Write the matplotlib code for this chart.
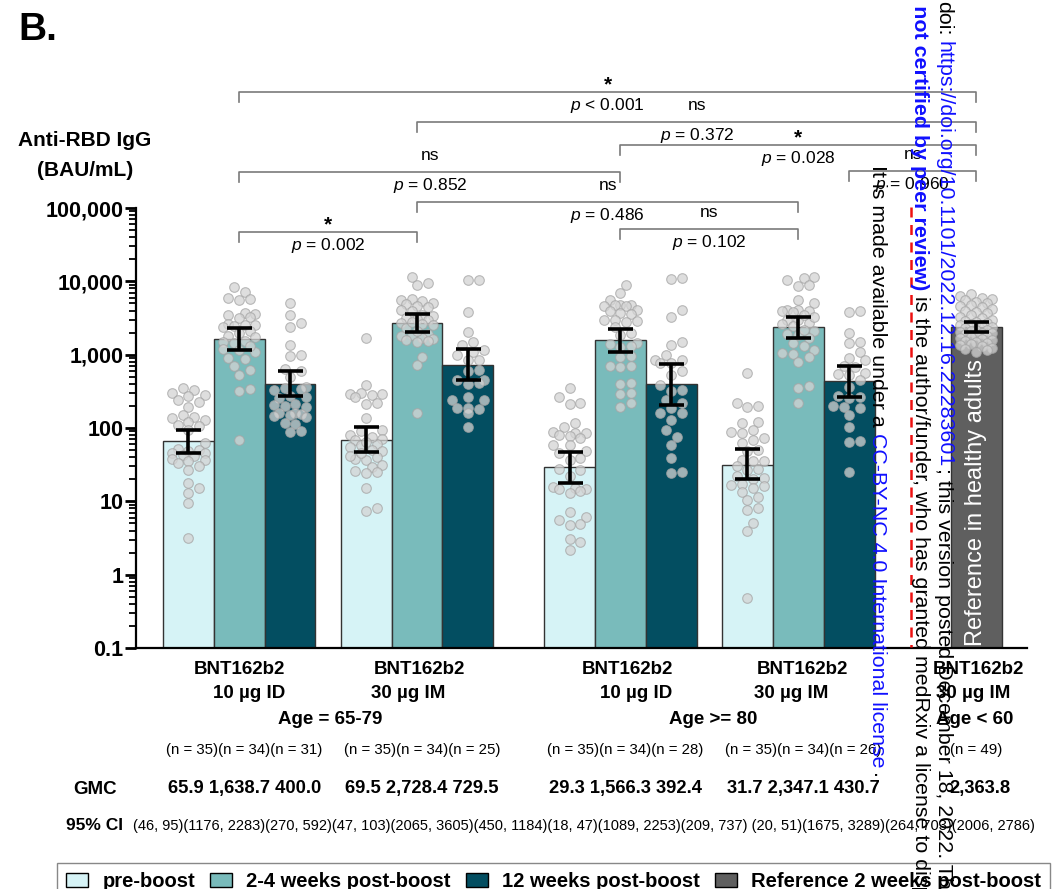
import numpy as np
import matplotlib.pyplot as plt
from matplotlib.patches import Patch
from matplotlib.transforms import blended_transform_factory
from matplotlib.ticker import LogLocator, NullFormatter

plt.rcParams['font.family'] = ['Liberation Sans', 'DejaVu Sans']
plt.rcParams['mathtext.fontset'] = 'custom'
plt.rcParams['mathtext.rm'] = 'Liberation Sans'
plt.rcParams['mathtext.it'] = 'Liberation Sans:italic'
plt.rcParams['mathtext.bf'] = 'Liberation Sans:bold'

# ---------------- data ----------------
timepoints = ['pre-boost', '2-4 weeks post-boost', '12 weeks post-boost']
ref_name = 'Reference 2 weeks post-boost'
vaccine = ['BNT162b2', 'BNT162b2', 'BNT162b2', 'BNT162b2', 'BNT162b2']
dose = ['10 µg ID', '30 µg IM', '10 µg ID', '30 µg IM', '30 µg IM']
ages = ['Age = 65-79', 'Age >= 80', 'Age < 60']

gmc = [[65.9, 1638.7, 400.0],
       [69.5, 2728.4, 729.5],
       [29.3, 1566.3, 392.4],
       [31.7, 2347.1, 430.7]]
ci_low = [[46, 1176, 270], [47, 2065, 450], [18, 1089, 209], [20, 1675, 264]]
ci_high = [[95, 2283, 592], [103, 3605, 1184], [47, 2253, 737], [51, 3289, 703]]
n_subj = [[35, 34, 31], [35, 34, 25], [35, 34, 28], [35, 34, 26]]
ref_gmc = 2363.8
ref_ci = (2006, 2786)
ref_n = 49

# individual titres
pts_6579_id_pre = [350, 330, 300, 285, 270, 240, 225, 195, 150, 140, 135, 130, 120, 110, 105,
                   95, 62, 52, 50, 48, 46, 45, 43, 42, 38, 37, 35, 33, 30, 27, 18, 15, 13, 9.5, 3.2]
pts_6579_id_2w = [8450, 7230, 6000, 5800, 5500, 3700, 3600, 3500, 3300, 3200, 2600, 2550, 2500, 2450,
                  2400, 2100, 2000, 1800, 1750, 1550, 1500, 1450, 1200, 1150, 1100, 900, 880, 690,
                  620, 530, 340, 320, 1300, 69]
pts_6579_id_12w = [5010, 3480, 2680, 2410, 1355, 1000, 960, 640, 600, 500, 360, 350, 340, 330, 270,
                   265, 260, 210, 205, 200, 195, 160, 158, 155, 150, 145, 140, 118, 115, 90, 88]
pts_6579_im_pre = [1670, 386, 300, 295, 290, 285, 267, 220, 215, 135, 95, 92, 80, 70, 68, 60, 58, 50,
                   48, 40, 38, 37, 31, 29, 26, 25, 24, 15, 8.0, 7.4, 75, 65, 55, 45, 42]
pts_6579_im_2w = [11600, 9400, 9000, 5700, 5500, 5400, 5100, 4900, 4600, 4400, 4100, 3900, 3500,
                  3400, 3200, 3100, 3000, 2700, 2600, 2300, 1900, 1850, 1800, 1700, 1650, 1600,
                  1550, 1500, 940, 720, 159, 2800, 2500, 2100]
pts_6579_im_12w = [10400, 10300, 3860, 2060, 1500, 1355, 1160, 1100, 990, 850, 840, 620, 600, 455,
                   450, 410, 400, 267, 241, 240, 190, 185, 182, 159, 104]
pts_80_id_pre = [348, 267, 220, 215, 116, 104, 89, 86, 85, 80, 79, 72, 59, 58, 48, 39, 37, 28, 27,
                 22, 15.5, 15, 14.8, 14.5, 14, 12.9, 7.2, 6.2, 5.6, 4.9, 4.7, 3.1, 2.8, 2.2, 45]
pts_80_id_2w = [8900, 6900, 5600, 4800, 4750, 4700, 4650, 4600, 4100, 4000, 3700, 3600, 3000, 2950,
                2850, 2800, 1850, 1450, 1400, 1300, 1280, 950, 930, 700, 690, 680, 410, 400, 300,
                290, 220, 195, 2400, 2000]
pts_80_id_12w = [11000, 10800, 4070, 3300, 1500, 1355, 990, 850, 840, 770, 760, 590, 530, 390, 330,
                 320, 241, 217, 185, 160, 158, 129, 94, 76, 59, 39, 25.5, 24.5]
pts_80_im_pre = [557, 217, 200, 195, 122, 116, 94, 89, 85, 72, 69, 62, 50, 48, 37, 36, 35, 30, 28,
                 27, 22, 21, 20, 17, 16.5, 16, 15, 13.5, 11.6, 10.4, 8.0, 7.6, 5.0, 3.9, 0.48]
pts_80_im_2w = [11600, 11000, 10500, 9000, 8700, 5600, 5000, 4100, 4050, 4000, 3950, 3850, 3000,
                2950, 2700, 2650, 2450, 2100, 1850, 1700, 1450, 1300, 1160, 1050, 1030, 940, 800,
                370, 350, 217, 2200, 1900, 3500, 3300]
pts_80_im_12w = [3900, 3800, 1950, 1500, 1430, 1100, 900, 850, 700, 680, 560, 550, 530, 450, 366,
                 270, 265, 260, 200, 195, 190, 150, 104, 66, 64, 25]
pts_ref = [6800, 6300, 6000, 5700, 5500, 5200, 5000, 4800, 4600, 4400, 4200, 4000, 3800, 3700,
           3500, 3300, 3200, 3000, 2900, 2800, 2700, 2600, 2500, 2450, 2400, 2300, 2200, 2150,
           2100, 2050, 2000, 1950, 1900, 1850, 1800, 1750, 1700, 1650, 1600, 1550, 1500, 1450,
           1400, 1350, 1300, 1250, 1200, 1150, 1100]

points = [[pts_6579_id_pre, pts_6579_id_2w, pts_6579_id_12w],
          [pts_6579_im_pre, pts_6579_im_2w, pts_6579_im_12w],
          [pts_80_id_pre, pts_80_id_2w, pts_80_id_12w],
          [pts_80_im_pre, pts_80_im_2w, pts_80_im_12w]]

# ---------------- layout ----------------
W, H = 1062, 889
colors = ['#d6f3f6', '#79bbbb', '#034e61']
ref_color = '#5f5f5f'
group_left = [0, 3.5, 7.5, 11.0]
ref_left = 15.5
PX_UNIT = 50.8      # pixels per bar width
PX_DEC = 73.33      # pixels per decade


def fy(ypx):
    return 1 - ypx / H


def swarm(vals, diam=9.0, half=21.0):
    # deterministic beeswarm offsets (in bar widths)
    y = np.log10(vals) * PX_DEC
    order = np.argsort(y)
    step = diam * 0.6
    cands = [0.0]
    k = 1
    while k * step <= half:
        cands += [k * step, -k * step]
        k += 1
    placed = []
    xs = np.zeros(len(vals))
    for i in order:
        best, best_d = 0.0, -1
        for c in cands:
            d = min([np.hypot(c - px, y[i] - py) for px, py in placed] or [np.inf])
            if d >= diam * 1.05:
                best = c
                break
            if d > best_d:
                best, best_d = c, d
        xs[i] = best
        placed.append((best, y[i]))
    return xs / PX_UNIT


def draw_points(xc, vals):
    vals = np.array(vals, dtype=float)
    ax.scatter(xc + swarm(vals), vals, s=48, facecolor='#d4d4d4', edgecolor='#a5a5a5',
               linewidth=0.8, alpha=0.75, zorder=3)


fig = plt.figure(figsize=(W / 100, H / 100), dpi=100)
ax = fig.add_axes([136 / W, fy(648), (1027 - 136) / W, 440 / H])

for g in range(4):
    for t in range(3):
        xc = group_left[g] + t + 0.5
        ax.bar(xc, gmc[g][t], width=1, color=colors[t], edgecolor='#333333', linewidth=1, zorder=1)
        draw_points(xc, points[g][t])
        ax.errorbar(xc, gmc[g][t], yerr=[[gmc[g][t] - ci_low[g][t]], [ci_high[g][t] - gmc[g][t]]],
                    fmt='none', ecolor='black', elinewidth=2.6, capsize=9, capthick=2.6, zorder=4)

xr = ref_left + 0.5
ax.bar(xr, ref_gmc, width=1, color=ref_color, edgecolor='#333333', linewidth=1, zorder=1)
draw_points(xr, pts_ref)
ax.errorbar(xr, ref_gmc, yerr=[[ref_gmc - ref_ci[0]], [ref_ci[1] - ref_gmc]],
            fmt='none', ecolor='black', elinewidth=2.6, capsize=9, capthick=2.6, zorder=4)
ax.text(xr, 0.108, 'Reference in healthy adults', rotation=90, ha='center', va='bottom',
        color='white', fontsize=17, zorder=5)

ax.set_yscale('log')
ax.set_ylim(0.1, 1e5)
ax.set_xlim(-0.53, 17.0)
ax.set_yticks([0.1, 1, 10, 100, 1e3, 1e4, 1e5])
ax.set_yticklabels(['0.1', '1', '10', '100', '1,000', '10,000', '100,000'],
                   fontsize=15.5, fontweight='bold')
ax.yaxis.set_minor_locator(LogLocator(base=10, subs=np.arange(2, 10)))
ax.yaxis.set_minor_formatter(NullFormatter())
ax.tick_params(axis='y', which='major', length=8, width=2, pad=1)
ax.tick_params(axis='y', which='minor', length=5, width=1.3)
ax.set_xticks([])
for s in ['top', 'right']:
    ax.spines[s].set_visible(False)
for s in ['left', 'bottom']:
    ax.spines[s].set_linewidth(1.6)

# significance brackets: (x from, x to, level as log10 titre, upper text, lower text)
c2w = [group_left[g] + 1.5 for g in range(4)]
brackets = [(c2w[0], xr, 6.582, '*', '$p$ < 0.001'),
            (c2w[1], xr, 6.173, 'ns', '$p$ = 0.372'),
            (c2w[2], xr, 5.859, '*', '$p$ = 0.028'),
            (group_left[3] + 2.5, xr, 5.505, 'ns', '$p$ = 0.960'),
            (c2w[0], c2w[2], 5.491, 'ns', '$p$ = 0.852'),
            (c2w[1], c2w[3], 5.082, 'ns', '$p$ = 0.486'),
            (c2w[2], c2w[3], 4.714, 'ns', '$p$ = 0.102'),
            (c2w[0], c2w[1], 4.673, '*', '$p$ = 0.002')]
for x0, x1, lvl, top, bot in brackets:
    yl = 10 ** lvl
    yt = 10 ** (lvl - 0.13)
    ax.plot([x0, x0, x1, x1], [yt, yl, yl, yt], color='#7a7a7a', lw=1.2, clip_on=False, zorder=2)
    xm = (x0 + x1) / 2
    if top == '*':
        ax.annotate(top, (xm, yl), xytext=(0, 1.5), textcoords='offset points', ha='center',
                    va='baseline', fontsize=15, fontweight='bold', annotation_clip=False)
    else:
        ax.annotate(top, (xm, yl), xytext=(0, 8.5), textcoords='offset points', ha='center',
                    va='baseline', fontsize=12.5, annotation_clip=False)
    ax.annotate(bot, (xm, yl), xytext=(0, -3), textcoords='offset points', ha='center',
                va='top', fontsize=12.5, annotation_clip=False)

# labels under the axis
tr = blended_transform_factory(ax.transData, fig.transFigure)
line1_x = [1.5, 5.04, 9.13, 12.58, 16.04]
line2_x = [1.69, 4.82, 9.31, 12.36, 15.94]
for i in range(5):
    ax.text(line1_x[i], fy(670), vaccine[i], transform=tr, ha='center', va='center',
            fontsize=13.5, fontweight='bold')
    ax.text(line2_x[i], fy(694), dose[i], transform=tr, ha='center', va='center',
            fontsize=13.5, fontweight='bold')
for x, lab in zip([3.3, 10.83, 15.98], ages):
    ax.text(x, fy(719), lab, transform=tr, ha='center', va='center', fontsize=13.5,
            fontweight='bold')

group_cx = [group_left[g] + 1.6 for g in range(4)]
for g in range(4):
    ax.text(group_cx[g], fy(750), ''.join(f'(n = {n})' for n in n_subj[g]), transform=tr,
            ha='center', va='center', fontsize=10.8)
    ax.text(group_cx[g], fy(789), ' '.join(f'{v:,.1f}' for v in gmc[g]), transform=tr,
            ha='center', va='center', fontsize=13.2, fontweight='bold')
ax.text(xr, fy(750), f'(n = {ref_n})', transform=tr, ha='center', va='center', fontsize=10.8)
ax.text(xr + 0.08, fy(789), f'{ref_gmc:,.1f}', transform=tr, ha='center', va='center',
        fontsize=13.2, fontweight='bold')

ci_parts = []
for g in range(4):
    s = ''.join(f'({lo}, {hi})' for lo, hi in zip(ci_low[g], ci_high[g]))
    ci_parts.append((' ' if g == 3 else '') + s)
ci_parts.append(f'({ref_ci[0]}, {ref_ci[1]})')
fig.text(133 / W, fy(826), ''.join(ci_parts), ha='left', va='center', fontsize=10.5)

fig.text(95 / W, fy(789), 'GMC', ha='center', va='center', fontsize=13.5, fontweight='bold')
fig.text(94 / W, fy(826), '95% CI', ha='center', va='center', fontsize=12.5, fontweight='bold')
fig.text(85 / W, fy(141), 'Anti-RBD IgG', ha='center', va='center', fontsize=15, fontweight='bold')
fig.text(85 / W, fy(170), '(BAU/mL)', ha='center', va='center', fontsize=15, fontweight='bold')
fig.text(18 / W, fy(12), 'B.', ha='left', va='top', fontsize=28, fontweight='bold')

handles = [Patch(facecolor=c, edgecolor='black', linewidth=1) for c in colors + [ref_color]]
fig.legend(handles, timepoints + [ref_name], loc='upper left', bbox_to_anchor=(57 / W, fy(863)),
           ncol=4, fancybox=False, edgecolor='#888888', framealpha=1,
           prop={'weight': 'bold', 'size': 14.5}, handlelength=1.1, handleheight=0.7,
           handletextpad=0.7, columnspacing=0.75, borderpad=0.45, borderaxespad=0)

# medRxiv watermark columns (read top to bottom)
renderer = fig.canvas.get_renderer()
WM = 15.4
space_px = 0.278 * WM * 100 / 72


def column(x_px, y_px, pieces, anchor_end=False):
    y = y_px
    if anchor_end:
        first = pieces[0]
        t = fig.text(0, 0, first[0], rotation=-90, fontsize=WM, fontweight=first[2])
        y -= t.get_window_extent(renderer).height
        t.remove()
    for txt, col, wt, gap in pieces:
        t = fig.text(x_px / W, fy(y), txt, rotation=-90, ha='center', va='top', color=col,
                     fontsize=WM, fontweight=wt, zorder=10)
        y += t.get_window_extent(renderer).height + (space_px if gap else 0)


column(944, 1, [('doi:', 'black', 'normal', True),
                ('https://doi.org/10.1101/2022.12.16.22283601', '#1010ff', 'normal', False),
                ('; this version posted December 18, 2022. The copyright holder', 'black', 'normal', False)])
column(920, 290, [('(which was not certified by peer review)', '#1010ff', 'bold', True),
                  ('is the author/funder, who has granted medRxiv a license to display the preprint',
                   'black', 'normal', False)], anchor_end=True)
column(877, 165, [('It is made available under a', 'black', 'normal', True),
                  ('CC-BY-NC 4.0 International license', '#1010ff', 'normal', True),
                  ('.', 'black', 'normal', False)])
fig.add_artist(plt.Line2D([911 / W, 911 / W], [fy(207), fy(647)], color='#ee1111', lw=1.8,
                          ls=(0, (4, 3)), zorder=9))

fig.savefig('out.png', dpi=100)
